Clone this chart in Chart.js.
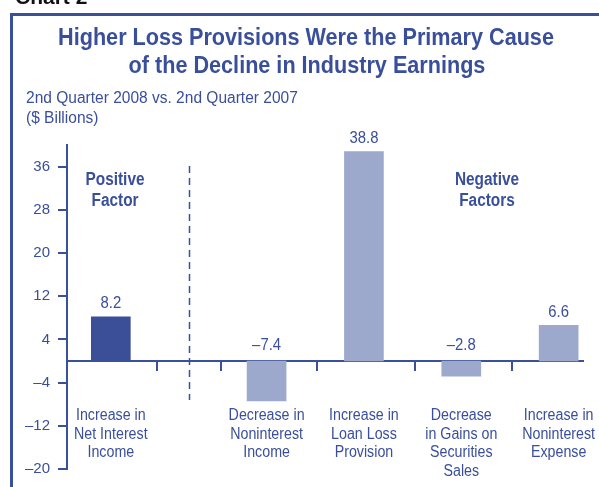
<!DOCTYPE html>
<html><head><meta charset="utf-8">
<script src="https://cdn.jsdelivr.net/npm/chart.js@4.4.1/dist/chart.umd.min.js"></script>
<style>html,body{margin:0;padding:0;background:#fff;overflow:hidden}canvas{display:block}</style>
</head><body>
<canvas id="c" width="599" height="487"></canvas>
<script>
// ---- data ----
const categories = [
  ['Increase in', 'Net Interest', 'Income'],
  ['Decrease in', 'Noninterest', 'Income'],
  ['Increase in', 'Loan Loss', 'Provision'],
  ['Decrease', 'in Gains on', 'Securities', 'Sales'],
  ['Increase in', 'Noninterest', 'Expense']
];
const barPositions = [0, 1.6, 2.6, 3.6, 4.6];
const values = [8.2, -7.4, 38.8, -2.8, 6.6];
const valueLabels = ['8.2', '\u20137.4', '38.8', '\u20132.8', '6.6'];
const yTickValues = [-20, -12, -4, 4, 12, 20, 28, 36];
const xTickValues = [0.47, 1.13, 2.12, 3.12, 4.12];
const dividerPosition = 0.8;
const titleLines = ['Higher Loss Provisions Were the Primary Cause', 'of the Decline in Industry Earnings'];
const subtitleLines = ['2nd Quarter 2008 vs. 2nd Quarter 2007', '($ Billions)'];
const positiveLabel = ['Positive', 'Factor'];
const negativeLabel = ['Negative', 'Factors'];

// ---- styles ----
const DARK = '#3a4f97';
const LIGHT = '#9da9cc';
const AXIS = '#3b509b';
const TEXT = '#3a4f9c';
const FONT = '"Liberation Sans", Arial, sans-serif';

function txt(ctx, s, x, y, size, bold, sx, align, color) {
  ctx.save();
  ctx.font = (bold ? 'bold ' : '') + size + 'px ' + FONT;
  ctx.fillStyle = color;
  ctx.textBaseline = 'alphabetic';
  ctx.textAlign = align;
  ctx.translate(x, y);
  ctx.scale(sx, 1);
  ctx.fillText(s, 0, 0);
  ctx.restore();
}

const deco = {
  id: 'deco',
  beforeDraw(chart) {
    const ctx = chart.ctx;
    ctx.save();
    ctx.fillStyle = '#fff';
    ctx.fillRect(0, 0, chart.width, chart.height);
    ctx.strokeStyle = AXIS;
    ctx.lineWidth = 3;
    ctx.beginPath();
    ctx.moveTo(11.5, chart.height);
    ctx.lineTo(11.5, 14.5);
    ctx.lineTo(chart.width, 14.5);
    ctx.stroke();
    ctx.restore();
    txt(ctx, 'Chart 2', 15, 4, 21, true, 1, 'left', '#111');
    txt(ctx, titleLines[0], 306, 45, 23, true, 0.94, 'center', TEXT);
    txt(ctx, titleLines[1], 307, 73, 23, true, 0.94, 'center', TEXT);
    txt(ctx, subtitleLines[0], 26, 103, 16, false, 0.97, 'left', TEXT);
    txt(ctx, subtitleLines[1], 26, 123, 16, false, 0.97, 'left', TEXT);
  },
  afterDatasetsDraw(chart) {
    const ctx = chart.ctx;
    const xs = chart.scales.x, ys = chart.scales.y;
    ctx.save();
    ctx.strokeStyle = AXIS;
    ctx.lineWidth = 1.5;
    ctx.setLineDash([7, 5]);
    const dx = Math.round(xs.getPixelForValue(dividerPosition)) + 0.5;
    ctx.beginPath();
    ctx.moveTo(dx, 166);
    ctx.lineTo(dx, 400);
    ctx.stroke();
    ctx.restore();
    txt(ctx, positiveLabel[0], 115, 185, 18, true, 0.855, 'center', TEXT);
    txt(ctx, positiveLabel[1], 115, 206, 18, true, 0.855, 'center', TEXT);
    txt(ctx, negativeLabel[0], 487, 185, 18, true, 0.855, 'center', TEXT);
    txt(ctx, negativeLabel[1], 487, 206, 18, true, 0.855, 'center', TEXT);
    values.forEach((v, i) => {
      const x = xs.getPixelForValue(barPositions[i]);
      const top = ys.getPixelForValue(Math.max(v, 0));
      txt(ctx, valueLabels[i], x, top - (v >= 0 ? 8.5 : 11), 16, false, 0.93, 'center', TEXT);
      categories[i].forEach((line, j) => {
        txt(ctx, line, x, 420 + j * 18.6, 16, false, 0.89, 'center', TEXT);
      });
    });
  }
};

new Chart(document.getElementById('c'), {
  type: 'bar',
  data: {
    datasets: [{
      data: values.map((v, i) => ({ x: barPositions[i], y: v })),
      backgroundColor: values.map((v, i) => i === 0 ? DARK : LIGHT),
      borderWidth: 0,
      barThickness: 39
    }]
  },
  options: {
    responsive: false,
    animation: false,
    devicePixelRatio: 1,
    layout: { padding: { top: 145, right: 16, bottom: 18, left: 0 } },
    plugins: { legend: { display: false }, tooltip: { enabled: false }, title: { display: false } },
    scales: {
      x: {
        type: 'linear',
        min: -0.45,
        max: 4.85,
        offset: false,
        position: { y: 0 },
        afterBuildTicks: s => { s.ticks = xTickValues.map(v => ({ value: v })); },
        grid: { offset: false, drawOnChartArea: false, drawTicks: true, tickLength: 9, color: AXIS, lineWidth: 2 },
        border: { display: true, color: AXIS, width: 2 },
        ticks: { display: false }
      },
      y: {
        type: 'linear',
        min: -20,
        max: 40,
        afterBuildTicks: s => { s.ticks = yTickValues.map(v => ({ value: v })); },
        afterFit: s => { s.width = 67; },
        grid: { drawOnChartArea: false, drawTicks: true, tickLength: 9, color: AXIS, lineWidth: 2 },
        border: { display: true, color: AXIS, width: 2 },
        ticks: {
          color: TEXT,
          font: { family: FONT, size: 15 },
          padding: 8,
          callback: v => v < 0 ? '\u2013' + Math.abs(v) : String(v)
        }
      }
    }
  },
  plugins: [deco]
});
</script>
</body></html>
